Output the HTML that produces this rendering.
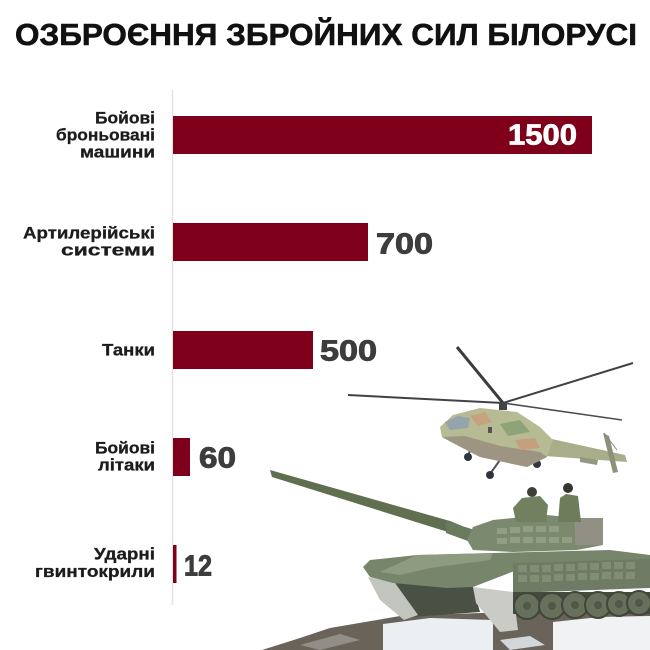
<!DOCTYPE html>
<html><head><meta charset="utf-8"><style>
html,body{margin:0;padding:0;background:#fff;}
svg{display:block;}
text{font-family:"Liberation Sans","Noto Sans CJK SC",sans-serif;font-weight:bold;}
</style></head><body>
<svg width="650" height="650" viewBox="0 0 650 650" xmlns="http://www.w3.org/2000/svg">
<rect width="650" height="650" fill="#fff"/>
<text x="15" y="45" font-size="31" fill="#111" stroke="#111" stroke-width="0.6" textLength="622" lengthAdjust="spacingAndGlyphs">ОЗБРОЄННЯ ЗБРОЙНИХ СИЛ БІЛОРУСІ</text>

<!-- axis -->
<line x1="172.5" y1="90" x2="172.5" y2="605" stroke="#e2e2e2" stroke-width="1.5"/>

<!-- ground -->
<polygon points="262,650 300,638 330,628 400,616 480,613 650,611 650,650" fill="#6a635a"/>
<polygon points="383,624 430,618 493,620 493,650 383,650" fill="#eceff1"/>
<polygon points="553,622 600,617 650,616 650,650 553,650" fill="#f0f2f4"/>
<polygon points="300,645 340,634 360,640 320,650" fill="#928d87"/>
<polygon points="500,640 530,636 545,645 510,650" fill="#d3d6d8"/>

<!-- tank -->
<g>
  <polygon points="270,470 272,477 448,532 476,544 479,533 450,521" fill="#5f6f50"/>
  <polygon points="446,521 478,531 476,544 446,533" fill="#6a7a5d"/>
  <polygon points="393,583 473,587 480,612 412,617" fill="#4a5044"/>
  <polygon points="368,577 395,583 418,615 404,620 380,600" fill="#c2c5bd"/>
  <polygon points="473,587 513,592 518,630 500,632 476,603" fill="#c9cbc4"/>
  <polygon points="363,567 370,560 417,555 493,553 610,550 650,555 650,570 613,567 517,570 473,587 447,588 393,583 370,577" fill="#77856a"/>
  <polygon points="417,555 493,553 490,560 430,568 400,575 380,572" fill="#8f9b80"/>
  <polygon points="513,563 650,559 650,588 513,593" fill="#6f7b65"/>
  <g fill="#828e74">
    <rect x="518" y="565" width="9" height="7"/><rect x="530" y="565" width="9" height="7"/><rect x="542" y="565" width="9" height="7"/><rect x="554" y="564" width="9" height="7"/><rect x="566" y="564" width="9" height="7"/><rect x="578" y="563" width="9" height="7"/><rect x="590" y="563" width="9" height="7"/><rect x="602" y="562" width="9" height="7"/><rect x="614" y="562" width="9" height="7"/><rect x="626" y="562" width="9" height="7"/>
    <rect x="518" y="575" width="9" height="7"/><rect x="530" y="575" width="9" height="7"/><rect x="542" y="575" width="9" height="7"/><rect x="554" y="574" width="9" height="7"/><rect x="566" y="574" width="9" height="7"/><rect x="578" y="573" width="9" height="7"/><rect x="590" y="573" width="9" height="7"/><rect x="602" y="572" width="9" height="7"/><rect x="614" y="572" width="9" height="7"/><rect x="626" y="572" width="9" height="7"/>
  </g>
  <rect x="513" y="592" width="137" height="22" fill="#454b3f"/>
  <g fill="#66705b" stroke="#40463a" stroke-width="2">
    <circle cx="527" cy="606" r="13"/><circle cx="552" cy="606" r="13"/><circle cx="575" cy="605" r="13"/><circle cx="598" cy="605" r="13"/><circle cx="619" cy="604" r="12"/><circle cx="639" cy="603" r="12"/>
  </g>
  <g fill="#505848">
    <circle cx="527" cy="606" r="4"/><circle cx="552" cy="606" r="4"/><circle cx="575" cy="605" r="4"/><circle cx="598" cy="605" r="4"/><circle cx="619" cy="604" r="4"/><circle cx="639" cy="603" r="4"/>
  </g>
  <polygon points="467,540 473,527 493,520 523,517 547,515 577,518 603,522 603,545 577,550 513,552 473,550" fill="#7b896f"/>
  <g fill="#929e84">
    <rect x="497" y="528" width="10" height="6"/><rect x="510" y="527" width="10" height="6"/><rect x="523" y="526" width="10" height="6"/><rect x="536" y="526" width="10" height="6"/><rect x="549" y="526" width="10" height="6"/>
    <rect x="497" y="538" width="10" height="6"/><rect x="510" y="537" width="10" height="6"/><rect x="523" y="537" width="10" height="6"/><rect x="536" y="537" width="10" height="6"/><rect x="549" y="537" width="10" height="6"/><rect x="562" y="537" width="10" height="6"/>
  </g>
  <rect x="575" y="518" width="28" height="27" fill="#928f84"/>
  <polygon points="513,508 522,498 540,496 548,505 546,522 516,522" fill="#72805f"/>
  <circle cx="532" cy="492" r="5" fill="#3f3f3a"/>
  <polygon points="560,498 566,494 578,496 581,522 558,522" fill="#6e7c5c"/>
  <circle cx="568" cy="488" r="5" fill="#343431"/>
</g>

<!-- helicopter -->
<g>
  <polygon points="538,436 625,455 627,462 545,456" fill="#a9ad8a"/>
  <polygon points="603,433 609,436 618,472 613,473" fill="#8c9278"/>
  <line x1="604" y1="433" x2="617" y2="450" stroke="#888" stroke-width="1"/>
  <polygon points="580,457 598,460 597,465 580,462" fill="#8f9880"/>
  <line x1="470" y1="450" x2="468" y2="457" stroke="#444" stroke-width="2"/>
  <line x1="500" y1="460" x2="490" y2="474" stroke="#555" stroke-width="2"/>
  <line x1="536" y1="458" x2="537" y2="463" stroke="#444" stroke-width="2"/>
  <circle cx="468" cy="457" r="4" fill="#2f3640"/>
  <circle cx="490" cy="475" r="4" fill="#2f3640"/>
  <circle cx="537" cy="464" r="4" fill="#2f3640"/>
  <polygon points="440,427 453,415 480,408 517,412 540,427 553,440 547,457 527,467 480,457 453,443 442,437" fill="#b6bb93"/>
  <polygon points="442,437 453,443 480,457 527,467 547,457 540,452 500,446 465,436" fill="#9e9482"/>
  <polygon points="470,416 485,412 492,422 478,426" fill="#c7a27f"/>
  <polygon points="500,424 520,420 530,432 508,436" fill="#8ea377"/>
  <polygon points="515,440 535,438 540,448 520,450" fill="#c4a07e"/>
  <polygon points="445,422 458,416 470,418 468,428 450,430" fill="#93a4ab"/>
  <rect x="488" y="427" width="4" height="6" fill="#555"/>
  <line x1="503" y1="403" x2="457" y2="347" stroke="#3a3d40" stroke-width="3"/>
  <line x1="503" y1="403" x2="633" y2="363" stroke="#3f4246" stroke-width="2"/>
  <line x1="503" y1="403" x2="348" y2="395" stroke="#3f4246" stroke-width="2"/>
  <line x1="503" y1="403" x2="622" y2="420" stroke="#4a4d50" stroke-width="1.6"/>
  <rect x="499" y="402" width="8" height="8" fill="#444"/>
</g>

<!-- bars -->
<g fill="#7e001a">
  <rect x="173" y="116" width="419" height="38"/>
  <rect x="173" y="223" width="195" height="38"/>
  <rect x="173" y="331" width="140" height="38"/>
  <rect x="173" y="438" width="17" height="38"/>
  <rect x="173" y="545" width="3.5" height="38"/>
</g>

<!-- values -->
<text x="508" y="144.5" font-size="29" fill="#fff" stroke="#fff" stroke-width="0.8" textLength="69" lengthAdjust="spacingAndGlyphs">1500</text>
<g fill="#3d3d3d" stroke="#3d3d3d" stroke-width="0.9" font-size="29">
  <text x="376" y="253.5" textLength="57" lengthAdjust="spacingAndGlyphs">700</text>
  <text x="320" y="360.5" textLength="57" lengthAdjust="spacingAndGlyphs">500</text>
  <text x="199" y="467.5" textLength="37" lengthAdjust="spacingAndGlyphs">60</text>
  <text x="184" y="575.5" textLength="28" lengthAdjust="spacingAndGlyphs">12</text>
</g>

<!-- category labels -->
<g fill="#1c1c1c" stroke="#1c1c1c" stroke-width="0.3" font-size="16.5" text-anchor="end">
  <text x="155" y="123.5" textLength="60" lengthAdjust="spacingAndGlyphs">Бойові</text>
  <text x="155" y="140.5" textLength="99" lengthAdjust="spacingAndGlyphs">броньовані</text>
  <text x="155" y="157.5" textLength="75" lengthAdjust="spacingAndGlyphs">машини</text>
  <text x="155" y="238.5" textLength="132" lengthAdjust="spacingAndGlyphs">Артилерійські</text>
  <text x="155" y="255.5" textLength="94" lengthAdjust="spacingAndGlyphs">системи</text>
  <text x="155" y="355.5" textLength="53" lengthAdjust="spacingAndGlyphs">Танки</text>
  <text x="155" y="453.5" textLength="60" lengthAdjust="spacingAndGlyphs">Бойові</text>
  <text x="155" y="470.5" textLength="57" lengthAdjust="spacingAndGlyphs">літаки</text>
  <text x="155" y="559.5" textLength="61" lengthAdjust="spacingAndGlyphs">Ударні</text>
  <text x="155" y="577" textLength="120" lengthAdjust="spacingAndGlyphs">гвинтокрили</text>
</g>
</svg>
</body></html>
